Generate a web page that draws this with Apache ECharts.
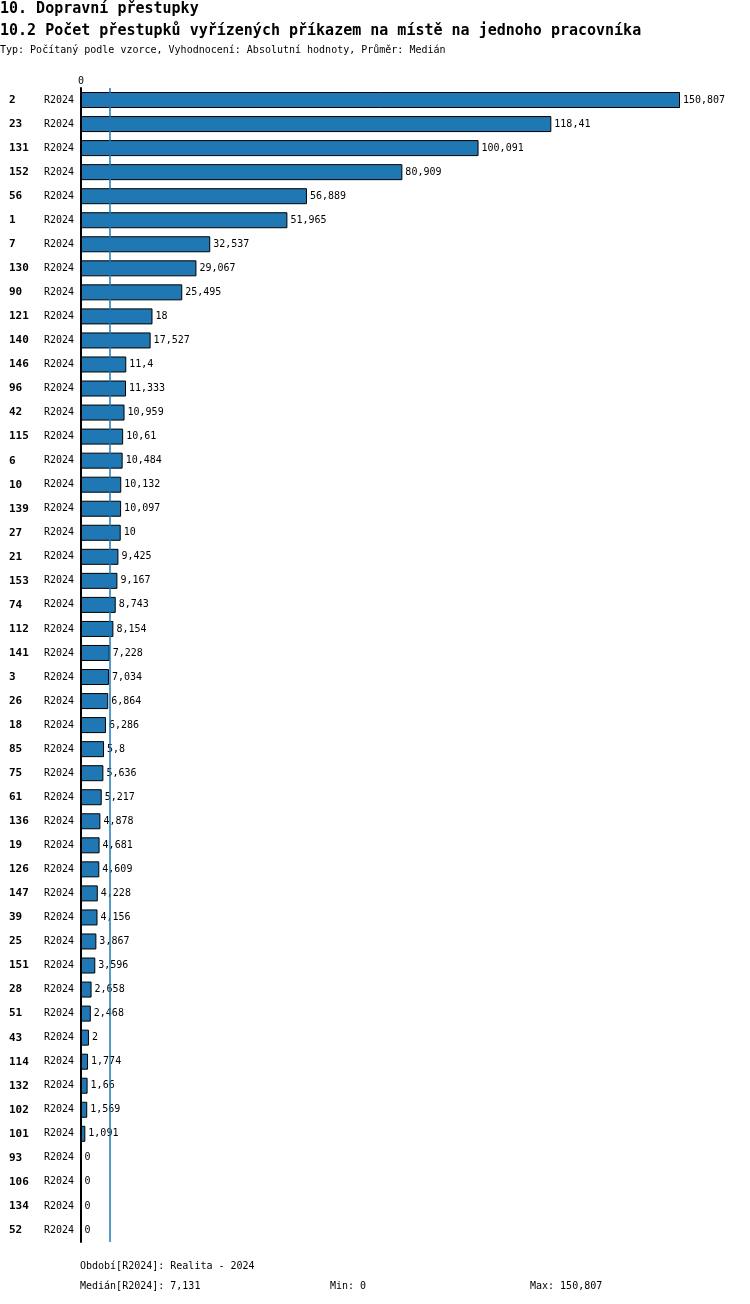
<!DOCTYPE html>
<html>
<head>
<meta charset="utf-8">
<script src="https://cdn.jsdelivr.net/npm/echarts@6/dist/echarts.min.js"></script>
<style>
  html, body { margin: 0; padding: 0; background: #fff; }
  #chart { width: 750px; height: 1304px; }
</style>
</head>
<body>
<div id="chart"></div>
<script>
var units = ['2', '23', '131', '152', '56', '1', '7', '130', '90', '121', '140', '146', '96', '42', '115', '6',
    '10', '139', '27', '21', '153', '74', '112', '141', '3', '26', '18', '85', '75', '61', '136', '19', '126',
    '147', '39', '25', '151', '28', '51', '43', '114', '132', '102', '101', '93', '106', '134', '52'];
var values = [150.807, 118.41, 100.091, 80.909, 56.889, 51.965, 32.537, 29.067, 25.495, 18, 17.527, 11.4,
    11.333, 10.959, 10.61, 10.484, 10.132, 10.097, 10, 9.425, 9.167, 8.743, 8.154, 7.228, 7.034, 6.864,
    6.286, 5.8, 5.636, 5.217, 4.878, 4.681, 4.609, 4.228, 4.156, 3.867, 3.596, 2.658, 2.468, 2, 1.774,
    1.66, 1.569, 1.091, 0, 0, 0, 0];
var period = 'R2024';
var median = 7.131;
var minVal = 0;
var maxVal = 150.807;

var mono = 'DejaVu Sans Mono';

function czNum(v) {
    return String(v).replace('.', ',');
}

var chart = echarts.init(document.getElementById('chart'));
var option = {
    animation: false,
    backgroundColor: '#fff',
    textStyle: { fontFamily: mono },
    grid: { left: 81, right: 70, top: 88, bottom: 62 },
    graphic: [
        { type: 'text', left: 0, top: 2, style: { text: '10. Dopravní přestupky', font: 'bold 15px ' + mono, fill: '#000' } },
        { type: 'text', left: 0, top: 24, style: { text: '10.2 Počet přestupků vyřízených příkazem na místě na jednoho pracovníka', font: 'bold 15px ' + mono, fill: '#000' } },
        { type: 'text', left: 0, top: 45, style: { text: 'Typ: Počítaný podle vzorce, Vyhodnocení: Absolutní hodnoty, Průměr: Medián', font: '10px ' + mono, fill: '#000' } },
        { type: 'text', left: 80, top: 1261, style: { text: 'Období[' + period + ']: Realita - 2024', font: '10px ' + mono, fill: '#000' } },
        { type: 'text', left: 80, top: 1281, style: { text: 'Medián[' + period + ']: ' + czNum(median), font: '10px ' + mono, fill: '#000' } },
        { type: 'text', left: 330, top: 1281, style: { text: 'Min: ' + czNum(minVal), font: '10px ' + mono, fill: '#000' } },
        { type: 'text', left: 530, top: 1281, style: { text: 'Max: ' + czNum(maxVal), font: '10px ' + mono, fill: '#000' } }
    ],
    xAxis: {
        type: 'value',
        position: 'top',
        min: 0,
        max: maxVal,
        interval: 1000,
        axisLine: { show: false },
        axisTick: { show: false },
        splitLine: { show: false },
        axisLabel: {
            showMaxLabel: false,
            margin: 2,
            fontSize: 10,
            color: '#000',
            fontFamily: mono,
            formatter: function (v) { return v === 0 ? '0' : ''; }
        }
    },
    yAxis: {
        type: 'category',
        inverse: true,
        data: units,
        z: 5,
        axisLine: { show: true, lineStyle: { color: '#000', width: 2 } },
        axisTick: { show: false },
        axisLabel: {
            align: 'left',
            margin: 72,
            color: '#000',
            formatter: function (v) { return '{a|' + v + '}{b|' + period + '}'; },
            rich: {
                a: { width: 35, fontWeight: 'bold', fontSize: 11, fontFamily: mono, color: '#000' },
                b: { fontSize: 10, fontFamily: mono, color: '#000' }
            }
        }
    },
    series: [{
        type: 'line',
        data: [],
        z: 1,
        silent: true,
        markLine: {
            silent: true,
            symbol: 'none',
            label: { show: false },
            lineStyle: { color: '#1f77b4', type: 'solid', width: 1.5 },
            data: [{ xAxis: median }]
        }
    }, {
        type: 'bar',
        data: values,
        z: 3,
        barWidth: 16,
        itemStyle: { color: '#1f77b4', borderColor: '#000', borderWidth: 1 },
        label: {
            show: true,
            position: 'right',
            distance: 3,
            fontSize: 10,
            fontFamily: mono,
            color: '#000',
            formatter: function (p) { return czNum(p.value); }
        }
    }]
};
chart.setOption(option);
</script>
</body>
</html>
